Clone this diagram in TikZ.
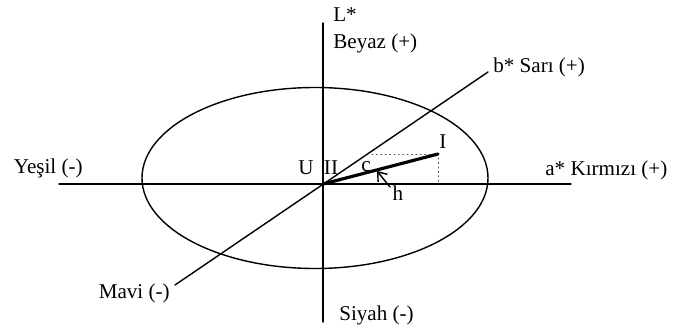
\documentclass[tikz,border=0pt]{standalone}
\usepackage{fontspec}
\setmainfont{Liberation Serif}
\usepackage{tikz}
\usetikzlibrary{arrows.meta,positioning,calc}
\tikzset{
    every picture/.style={line cap=round,line join=round},
    axisline/.style={draw=black,line width=0.8pt},
    chromaline/.style={draw=black,line width=1.8pt},
    helperline/.style={draw=black!70,line width=0.5pt,dotted},
    axislabel/.style={inner sep=0pt,font=\fontsize{12}{14}\selectfont},
    pointlabel/.style={inner sep=0pt,font=\fontsize{12}{14}\selectfont},
    hueArrow/.style={-{Straight Barb[length=1.6mm,width=2.4mm]},draw=black,
      line width=0.8pt}
}
\begin{document}
\begin{tikzpicture}[x=0.02cm,y=0.02cm]
  \useasboundingbox (-323,-150) rectangle (352,184);
  % axes
  \coordinate (O) at (0,0);
  \coordinate (Ltop) at (0,161);
  \coordinate (Lbot) at (0,-138);
  \coordinate (Aleft) at (-264,0);
  \coordinate (Aright) at (248,0);
  \coordinate (Btop) at (165,112);
  \coordinate (Bbot) at (-148,-101);
  \draw[axisline] (Ltop) -- (Lbot);
  \draw[axisline] (Aleft) -- (Aright);
  \draw[axisline] (Bbot) -- (Btop);
  \draw[axisline] (-8,6) ellipse [x radius=173,y radius=90.5];
  % colour point and chroma
  \coordinate (P) at (115,30);
  \coordinate (Pa) at (115,0);
  \coordinate (Pb) at (49,30);
  \draw[helperline] (Pb) -- (P) -- (Pa);
  \draw[chromaline] (O) -- (P);
  \coordinate (Htail) at (67,-3);
  \coordinate (Htip) at (54,13);
  \draw[hueArrow] (Htail) -- (Htip);
  % labels
  \node[axislabel,anchor=west] (lstar) at (10,169) {L*};
  \node[axislabel,anchor=west] (beyaz) at (10,141) {Beyaz (+)};
  \node[axislabel,anchor=west] (sari) at (170,117) {b* Sarı (+)};
  \node[axislabel,anchor=east] (yesil) at (-240,16) {Yeşil (-)};
  \node[axislabel,anchor=west] (kirmizi) at (222,14) {a* Kırmızı (+)};
  \node[axislabel,anchor=east] (mavi) at (-153,-109) {Mavi (-)};
  \node[axislabel,anchor=west] (siyah) at (16,-131) {Siyah (-)};
  \node[pointlabel] (U) at (-17,16) {U};
  \node[pointlabel] (II) at (8,16) {II};
  \node[pointlabel] (c) at (43,17) {c};
  \node[pointlabel] (I) at (120,42) {I};
  \node[pointlabel] (h) at (75,-9) {h};
\end{tikzpicture}
\end{document}
